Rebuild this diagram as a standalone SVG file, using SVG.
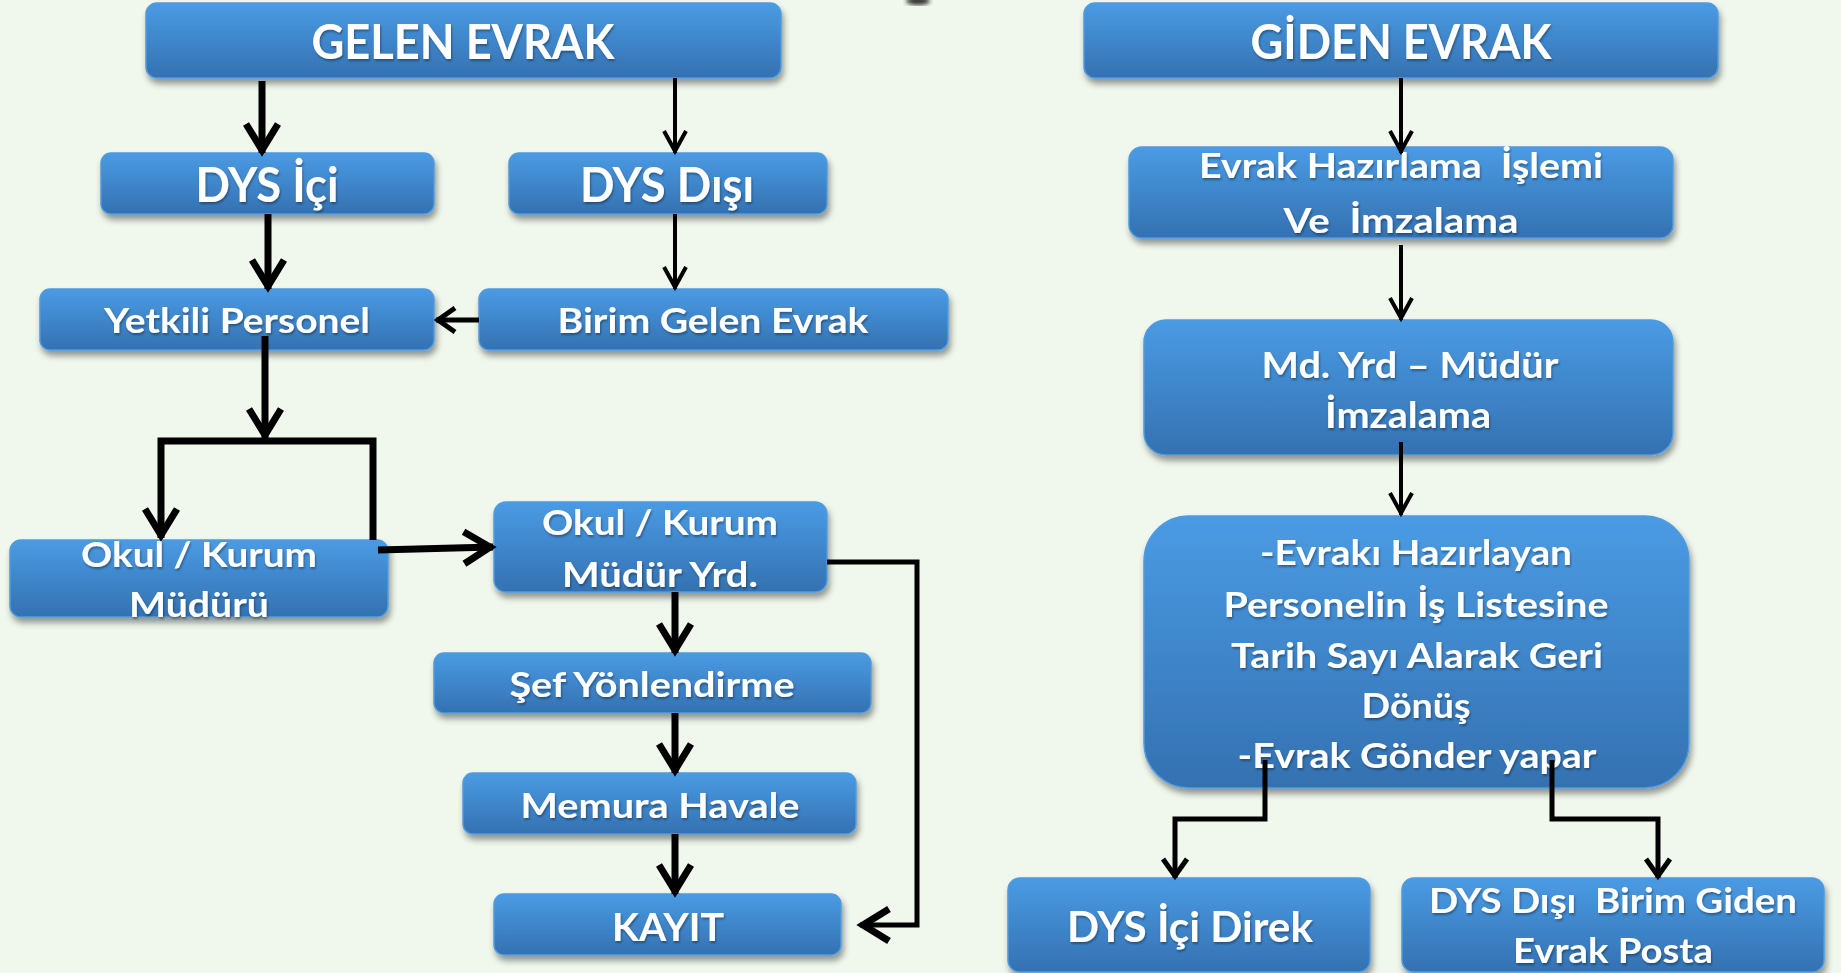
<svg xmlns="http://www.w3.org/2000/svg" width="1841" height="973" viewBox="0 0 1841 973">
<style>
.box{fill:url(#g);stroke:#4f9be0;stroke-width:1.5;filter:url(#sh)}
.t{font-family:Lato,"Open Sans","DejaVu Sans",sans-serif;font-weight:bold;fill:#fff;text-anchor:middle;filter:url(#ts)}
.c{fill:none;stroke:#000;stroke-linejoin:miter;stroke-linecap:butt}
.k{stroke-width:7}
.m{stroke-width:5}
.s{stroke-width:4}
</style>
<defs>
<linearGradient id="g" x1="0" y1="0" x2="0" y2="1">
<stop offset="0" stop-color="#4a9be4"/>
<stop offset="1" stop-color="#3471b1"/>
</linearGradient>
<filter id="sh" x="-10%" y="-20%" width="120%" height="150%">
<feDropShadow dx="2" dy="5" stdDeviation="3" flood-color="#000" flood-opacity="0.4"/>
</filter>
<filter id="ts" x="-10%" y="-30%" width="120%" height="160%">
<feDropShadow dx="1" dy="2" stdDeviation="1" flood-color="#000" flood-opacity="0.35"/>
</filter>
<filter id="bl"><feGaussianBlur stdDeviation="2"/></filter>
<marker id="aL" markerUnits="userSpaceOnUse" orient="auto" refX="0" refY="0" markerWidth="40" markerHeight="40" overflow="visible">
<path d="M-29,-16 L-3,0 L-29,16" fill="none" stroke="#000" stroke-width="7"/>
</marker>
<marker id="aM" markerUnits="userSpaceOnUse" orient="auto" refX="0" refY="0" markerWidth="40" markerHeight="40" overflow="visible">
<path d="M-19,-12 L-2,0 L-19,12" fill="none" stroke="#000" stroke-width="5"/>
</marker>
<marker id="aS" markerUnits="userSpaceOnUse" orient="auto" refX="0" refY="0" markerWidth="40" markerHeight="40" overflow="visible">
<path d="M-22,-11 L-2,0 L-22,11" fill="none" stroke="#000" stroke-width="4"/>
</marker>
</defs>
<rect width="1841" height="973" fill="#f0f7ec"/>
<ellipse cx="918" cy="1" rx="12" ry="4" fill="#333" filter="url(#bl)"/>

<g id="gelen-evrak"><rect class="box" x="146" y="3" width="635" height="75" rx="11"/><text class="t" x="463" y="59" font-size="47" textLength="303" lengthAdjust="spacingAndGlyphs">GELEN EVRAK</text></g>
<g id="dys-ici"><rect class="box" x="101" y="153" width="333" height="61" rx="10"/><text class="t" x="267" y="202" font-size="47" textLength="143" lengthAdjust="spacingAndGlyphs">DYS İçi</text></g>
<g id="dys-disi"><rect class="box" x="509" y="153" width="318" height="61" rx="10"/><text class="t" x="667" y="202" font-size="47" textLength="174" lengthAdjust="spacingAndGlyphs">DYS Dışı</text></g>
<g id="yetkili-personel"><rect class="box" x="40" y="289" width="394" height="61" rx="10"/><text class="t" x="237" y="333" font-size="35" textLength="266" lengthAdjust="spacingAndGlyphs">Yetkili Personel</text></g>
<g id="birim-gelen-evrak"><rect class="box" x="479" y="289" width="469" height="61" rx="10"/><text class="t" x="713" y="333" font-size="35" textLength="311" lengthAdjust="spacingAndGlyphs">Birim Gelen Evrak</text></g>
<g id="okul-kurum-muduru"><rect class="box" x="10" y="540" width="378" height="77" rx="11"/><text class="t" x="199" y="567" font-size="34" textLength="236" lengthAdjust="spacingAndGlyphs">Okul / Kurum</text><text class="t" x="199" y="617" font-size="34" textLength="140" lengthAdjust="spacingAndGlyphs">Müdürü</text></g>
<g id="okul-kurum-mudur-yrd"><rect class="box" x="494" y="502" width="333" height="90" rx="12"/><text class="t" x="660" y="535" font-size="34" textLength="236" lengthAdjust="spacingAndGlyphs">Okul / Kurum</text><text class="t" x="660" y="587" font-size="34" textLength="196" lengthAdjust="spacingAndGlyphs">Müdür Yrd.</text></g>
<g id="sef-yonlendirme"><rect class="box" x="434" y="653" width="437" height="60" rx="10"/><text class="t" x="652" y="697" font-size="35" textLength="285" lengthAdjust="spacingAndGlyphs">Şef Yönlendirme</text></g>
<g id="memura-havale"><rect class="box" x="463" y="773" width="393" height="61" rx="10"/><text class="t" x="660" y="818" font-size="35" textLength="279" lengthAdjust="spacingAndGlyphs">Memura Havale</text></g>
<g id="kayit"><rect class="box" x="494" y="894" width="347" height="61" rx="10"/><text class="t" x="668" y="941" font-size="39" textLength="112" lengthAdjust="spacingAndGlyphs">KAYIT</text></g>

<g id="giden-evrak"><rect class="box" x="1084" y="3" width="634" height="75" rx="11"/><text class="t" x="1401" y="59" font-size="47" textLength="301" lengthAdjust="spacingAndGlyphs">GİDEN EVRAK</text></g>
<g id="evrak-hazirlama"><rect class="box" x="1129" y="147" width="544" height="91" rx="13"/><text class="t" x="1401" y="178" font-size="35" textLength="404" lengthAdjust="spacingAndGlyphs" xml:space="preserve">Evrak Hazırlama  İşlemi</text><text class="t" x="1401" y="233" font-size="35" textLength="235" lengthAdjust="spacingAndGlyphs" xml:space="preserve">Ve  İmzalama</text></g>
<g id="md-yrd-mudur"><rect class="box" x="1144" y="320" width="529" height="135" rx="22"/><text class="t" x="1410" y="378" font-size="36" textLength="297" lengthAdjust="spacingAndGlyphs">Md. Yrd – Müdür</text><text class="t" x="1408" y="428" font-size="36" textLength="166" lengthAdjust="spacingAndGlyphs">İmzalama</text></g>
<g id="evraki-hazirlayan"><rect class="box" x="1144" y="516" width="545" height="272" rx="45"/>
<text class="t" x="1416" y="565" font-size="34" textLength="312" lengthAdjust="spacingAndGlyphs">-Evrakı Hazırlayan</text>
<text class="t" x="1416" y="617" font-size="34" textLength="385" lengthAdjust="spacingAndGlyphs">Personelin İş Listesine</text>
<text class="t" x="1417" y="668" font-size="34" textLength="372" lengthAdjust="spacingAndGlyphs">Tarih Sayı Alarak Geri</text>
<text class="t" x="1416" y="718" font-size="34" textLength="109" lengthAdjust="spacingAndGlyphs">Dönüş</text>
<text class="t" x="1417" y="768" font-size="34" textLength="359" lengthAdjust="spacingAndGlyphs">-Evrak Gönder yapar</text></g>
<g id="dys-ici-direk"><rect class="box" x="1008" y="878" width="362" height="94" rx="12"/><text class="t" x="1190" y="942" font-size="42" textLength="246" lengthAdjust="spacingAndGlyphs">DYS İçi Direk</text></g>
<g id="dys-disi-birim-giden"><rect class="box" x="1402" y="878" width="422" height="94" rx="12"/><text class="t" x="1613" y="913" font-size="35" textLength="368" lengthAdjust="spacingAndGlyphs" xml:space="preserve">DYS Dışı  Birim Giden</text><text class="t" x="1613" y="963" font-size="35" textLength="200" lengthAdjust="spacingAndGlyphs">Evrak Posta</text></g>

<g id="connectors">
<path class="c k" d="M262,81 L262,153" marker-end="url(#aL)"/>
<path class="c s" d="M675,78 L675,153" marker-end="url(#aS)"/>
<path class="c k" d="M268,214 L268,289" marker-end="url(#aL)"/>
<path class="c s" d="M675,214 L675,289" marker-end="url(#aS)"/>
<path class="c m" d="M479,320 L436,320" marker-end="url(#aM)"/>
<path class="c k" d="M265,336 L265,438" marker-end="url(#aL)"/>
<path class="c k" stroke-width="8" d="M265,441 L161,441 L161,538" marker-end="url(#aL)"/>
<path class="c k" stroke-width="8" d="M265,441 L373,441 L373,540"/>
<path class="c k" stroke-width="8" d="M378,550 L493,547" marker-end="url(#aL)"/>
<path class="c k" d="M675,592 L675,653" marker-end="url(#aL)"/>
<path class="c k" d="M675,713 L675,773" marker-end="url(#aL)"/>
<path class="c k" d="M675,834 L675,894" marker-end="url(#aL)"/>
<path class="c m" d="M827,562 L917,562 L917,925 L860,925" marker-end="url(#aL)"/>
<path class="c s" d="M1401,78 L1401,153" marker-end="url(#aS)"/>
<path class="c s" d="M1401,245 L1401,320" marker-end="url(#aS)"/>
<path class="c s" d="M1401,442 L1401,515" marker-end="url(#aS)"/>
<path class="c m" d="M1265,760 L1265,819 L1175,819 L1175,878" marker-end="url(#aM)"/>
<path class="c m" d="M1552,760 L1552,819 L1658,819 L1658,878" marker-end="url(#aM)"/>
</g>
</svg>
